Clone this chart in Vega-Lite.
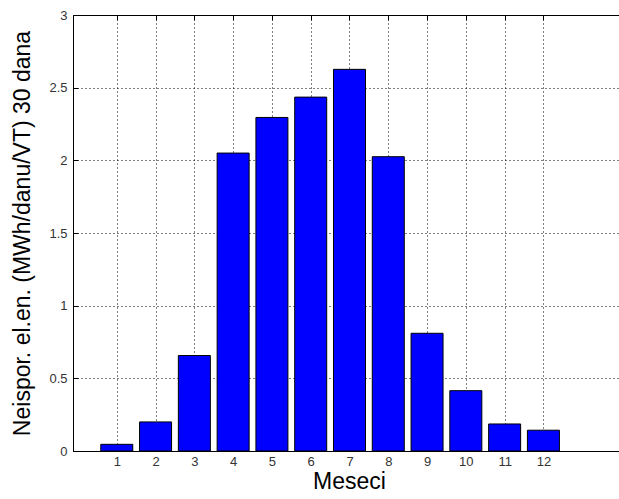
{
  "$schema": "https://vega.github.io/schema/vega-lite/v6.json",
  "autosize": "none",
  "padding": {"left": 73, "top": 15, "right": 0, "bottom": 48},
  "width": 546,
  "height": 436,
  "background": "white",
  "config": {
    "font": "Liberation Sans",
    "view": {"stroke": "black", "strokeWidth": 1},
    "axis": {
      "domainColor": "black",
      "tickColor": "black",
      "labelColor": "#333",
      "labelFontSize": 13,
      "labelFont": "Liberation Sans",
      "titleFont": "Liberation Sans",
      "titleFontSize": 23,
      "titleFontWeight": "normal",
      "titleColor": "black",
      "gridColor": "black",
      "gridDash": [1, 3],
      "gridOpacity": 1,
      "gridWidth": 1
    }
  },
  "data": {
    "values": [
      {"mesec": 1, "vrednost": 0.046},
      {"mesec": 2, "vrednost": 0.2},
      {"mesec": 3, "vrednost": 0.657},
      {"mesec": 4, "vrednost": 2.05},
      {"mesec": 5, "vrednost": 2.295},
      {"mesec": 6, "vrednost": 2.435},
      {"mesec": 7, "vrednost": 2.626},
      {"mesec": 8, "vrednost": 2.025},
      {"mesec": 9, "vrednost": 0.81},
      {"mesec": 10, "vrednost": 0.415},
      {"mesec": 11, "vrednost": 0.186},
      {"mesec": 12, "vrednost": 0.143}
    ]
  },
  "layer": [
    {
      "mark": {"type": "bar", "size": 32, "color": "#0000ff", "stroke": "black", "strokeWidth": 1},
      "encoding": {
        "x": {
          "field": "mesec",
          "type": "quantitative",
          "scale": {"domain": [0, 13.82], "nice": false, "zero": false},
          "axis": {
            "title": "Meseci",
            "values": [1, 2, 3, 4, 5, 6, 7, 8, 9, 10, 11, 12],
            "grid": true,
            "tickSize": -5,
            "labelPadding": 9,
            "titlePadding": 2,
            "titleX": 276,
            "labelFlush": false
          }
        },
        "y": {
          "field": "vrednost",
          "type": "quantitative",
          "scale": {"domain": [0, 3], "nice": false},
          "axis": {
            "title": "Neispor. el.en. (MWh/danu/VT) 30 dana",
            "values": [0, 0.5, 1, 1.5, 2, 2.5, 3],
            "format": "~g",
            "grid": true,
            "tickSize": -5,
            "labelPadding": 11,
            "titlePadding": 14,
            "labelFlush": false
          }
        }
      }
    },
    {
      "mark": {"type": "bar", "size": 32, "opacity": 0},
      "encoding": {
        "x": {
          "field": "mesec",
          "type": "quantitative",
          "axis": {
            "orient": "top",
            "title": null,
            "labels": false,
            "domain": false,
            "grid": false,
            "values": [1, 2, 3, 4, 5, 6, 7, 8, 9, 10, 11, 12],
            "tickSize": -5
          }
        },
        "y": {"field": "vrednost", "type": "quantitative"}
      }
    }
  ],
  "resolve": {"axis": {"x": "independent"}}
}
